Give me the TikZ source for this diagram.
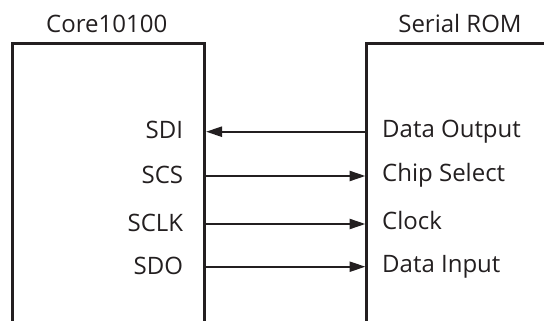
\documentclass[tikz,border=0pt]{standalone}
\usepackage{fontspec}
\setmainfont{Open Sans}
\usetikzlibrary{arrows.meta}
\definecolor{ink}{RGB}{35,31,32}
\begin{document}
\begin{tikzpicture}[x=1pt,y=-1pt,
    box/.style={ink,line width=2.8pt},
    sig/.style={ink,line width=2.4pt,-{Triangle[length=16pt,width=10pt]}},
    lbl/.style={ink,inner sep=0pt,font=\fontsize{24}{29}\selectfont}]
    \useasboundingbox (0,0) rectangle (544,321);
    % the two chips, cut off at the bottom
    \draw[box] (12.7,321) -- (12.7,43.3) -- (204.7,43.3) -- (204.7,321);
    \draw[box] (366.7,321) -- (366.7,43.3) -- (544,43.3);
    \node[lbl,anchor=base] (core) at (106.7,32.3) {Core10100};
    \node[lbl,anchor=base] (rom) at (460,32.3) {Serial ROM};
    % pin ends on both chips
    \foreach \n/\y in {sdi/131.7,scs/176,sclk/224,sdo/266.7}
    {
    \coordinate (\n L) at (206,\y);
    \coordinate (\n R) at (365.5,\y);
    }
    \draw[sig] (sdiR) -- (sdiL);
    \draw[sig] (scsL) -- (scsR);
    \draw[sig] (sclkL) -- (sclkR);
    \draw[sig] (sdoL) -- (sdoR);
    % pin names
    \node[lbl,anchor=base east] (sdi) at (183.3,139) {SDI};
    \node[lbl,anchor=base east] (scs) at (183.3,183.3) {SCS};
    \node[lbl,anchor=base east] (sclk) at (183.3,231.3) {SCLK};
    \node[lbl,anchor=base east] (sdo) at (183.3,274) {SDO};
    \node[lbl,anchor=base west] (dout) at (382,137) {Data Output};
    \node[lbl,anchor=base west] (cs) at (382,181.3) {Chip Select};
    \node[lbl,anchor=base west] (clk) at (382,229.3) {Clock};
    \node[lbl,anchor=base west] (din) at (382,272) {Data Input};
\end{tikzpicture}
\end{document}
